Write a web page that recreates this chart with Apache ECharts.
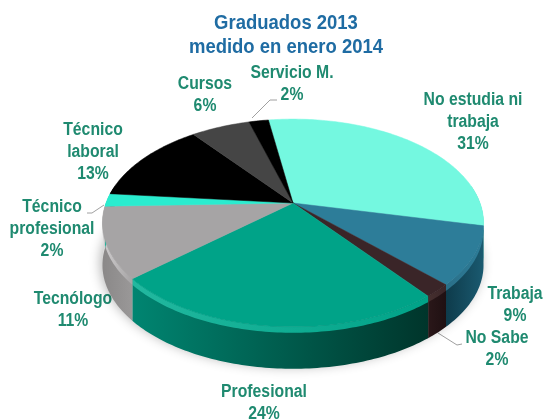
<!DOCTYPE html>
<html>
<head>
<meta charset="utf-8">
<title>Graduados 2013</title>
<script src="https://cdn.jsdelivr.net/npm/echarts@6/dist/echarts.min.js"></script>
<style>
  html, body { margin: 0; padding: 0; background: #fff; }
  #chart { width: 545px; height: 419px; }
</style>
</head>
<body>
<div id="chart"></div>
<script>
  // datos
  var titleLines = ['Graduados 2013', 'medido en enero 2014'];
  var categories = ['No estudia ni\ntrabaja', 'Trabaja', 'No Sabe', 'Profesional', 'Tecnólogo', 'Técnico\nprofesional', 'Técnico\nlaboral', 'Cursos', 'Servicio M.'];
  var values = [31, 9, 2, 24, 11, 2, 13, 6, 2];

  var topColors = ['#74f8e0', '#2d7d99', '#3a2528', '#00a388', '#a6a4a5', '#2aeccf', '#000000', '#454545', '#000000'];
  var wallLeft = ['#2a8c7c', '#0e3b4b', '#2a1719', '#008571', '#8a8888', '#20b09a', '#000000', '#333333', '#000000'];
  var wallRight = ['#3fb3a0', '#1a5a70', '#1f1012', '#00352b', '#9a9898', '#20b09a', '#000000', '#333333', '#000000'];
  var bevelColors = ['#8ffbe8', '#2a6f88', '#46302f', '#22b89f', '#cfcdce', '#2aeccf', '#222222', '#555555', '#222222'];

  // geometria de la torta (vista con perspectiva)
  var apexX = 293, apexY = 203, radX = 187, radY = 100, persp = 0.192, depth = 42, bevel = 6;
  var startDeg = -9;
  var total = values.reduce(function (a, b) { return a + b; }, 0);

  var ranges = [];
  var acc = startDeg;
  values.forEach(function (v) {
    var end = acc + v / total * 360;
    ranges.push([acc, end]);
    acc = end;
  });

  function rimPoint(deg, dy) {
    var a = deg * Math.PI / 180;
    var u = Math.sin(a), v = -Math.cos(a), w = 1 - persp * v;
    return [apexX + radX * u / w, apexY + radY * v / w + (dy || 0)];
  }

  function arc(from, to, dy) {
    var pts = [];
    var n = Math.max(2, Math.ceil(Math.abs(to - from)));
    for (var i = 0; i <= n; i++) {
      pts.push(rimPoint(from + (to - from) * i / n, dy));
    }
    return pts;
  }

  function ribbon(from, to, dy1, dy2) {
    return arc(from, to, dy1).concat(arc(from, to, dy2).reverse());
  }

  function hGrad(c1, c2) {
    return new echarts.graphic.LinearGradient(0, 0, 1, 0, [{offset: 0, color: c1}, {offset: 1, color: c2}]);
  }

  function renderWall(params) {
    var i = params.dataIndex;
    var r = ranges[i];
    // solo la parte frontal se ve
    var from = Math.max(r[0], 80), to = Math.min(r[1], 280);
    var children = [];
    if (i === 0) {
      children.push({
        type: 'polygon',
        shape: {points: arc(0, 360, depth - 4)},
        style: {fill: '#dddddd', shadowBlur: 12, shadowColor: 'rgba(0,0,0,0.3)', shadowOffsetX: -2, shadowOffsetY: 2}
      });
    }
    if (to > from) {
      children.push({
        type: 'polygon',
        shape: {points: ribbon(from, to, 0, depth)},
        style: {fill: hGrad(wallLeft[i], wallRight[i])}
      });
      children.push({
        type: 'polygon',
        shape: {points: ribbon(from, to, 0, bevel)},
        style: {fill: hGrad(bevelColors[i], topColors[i])}
      });
    }
    return {type: 'group', children: children};
  }

  function renderTop(params) {
    var i = params.dataIndex;
    var r = ranges[i];
    return {
      type: 'polygon',
      shape: {points: [[apexX, apexY]].concat(arc(r[0], r[1], 0))},
      style: {fill: topColors[i], stroke: topColors[i], lineWidth: 0.5}
    };
  }

  var labelSpots = [[473, 122], [515, 305], [497, 349], [264, 403], [73, 310], [52, 229], [93, 152], [205, 95], [292, 84]];

  var leaders = [
    [[252, 118], [270, 100], [277, 100]],
    [[104, 205], [92, 213], [87, 213]],
    [[438, 333], [457, 345], [462, 344]]
  ];

  var graphicItems = [];
  titleLines.forEach(function (line, i) {
    graphicItems.push({
      type: 'text',
      x: 286,
      y: 23 + i * 24,
      scaleX: 0.88,
      style: {
        text: line,
        font: 'bold 21px "Liberation Sans", Arial, sans-serif',
        fill: '#1f6ca3',
        align: 'center',
        verticalAlign: 'middle'
      }
    });
  });
  leaders.forEach(function (pts) {
    graphicItems.push({
      type: 'polyline',
      shape: {points: pts},
      style: {stroke: '#a0a0a0', fill: null, lineWidth: 1}
    });
  });
  categories.forEach(function (name, i) {
    graphicItems.push({
      type: 'text',
      x: labelSpots[i][0],
      y: labelSpots[i][1],
      scaleX: 0.9,
      style: {
        text: name + '\n' + values[i] + '%',
        font: 'bold 17.5px "Liberation Sans", Arial, sans-serif',
        fill: '#1f8a70',
        align: 'center',
        verticalAlign: 'middle',
        lineHeight: 22
      }
    });
  });

  var chart = echarts.init(document.getElementById('chart'), null, {renderer: 'canvas'});
  chart.setOption({
    animation: false,
    backgroundColor: '#ffffff',
    graphic: graphicItems,
    series: [
      {type: 'custom', coordinateSystem: 'none', renderItem: renderWall, data: values, silent: true, z: 1},
      {type: 'custom', coordinateSystem: 'none', renderItem: renderTop, data: values, silent: true, z: 2}
    ]
  });
</script>
</body>
</html>
